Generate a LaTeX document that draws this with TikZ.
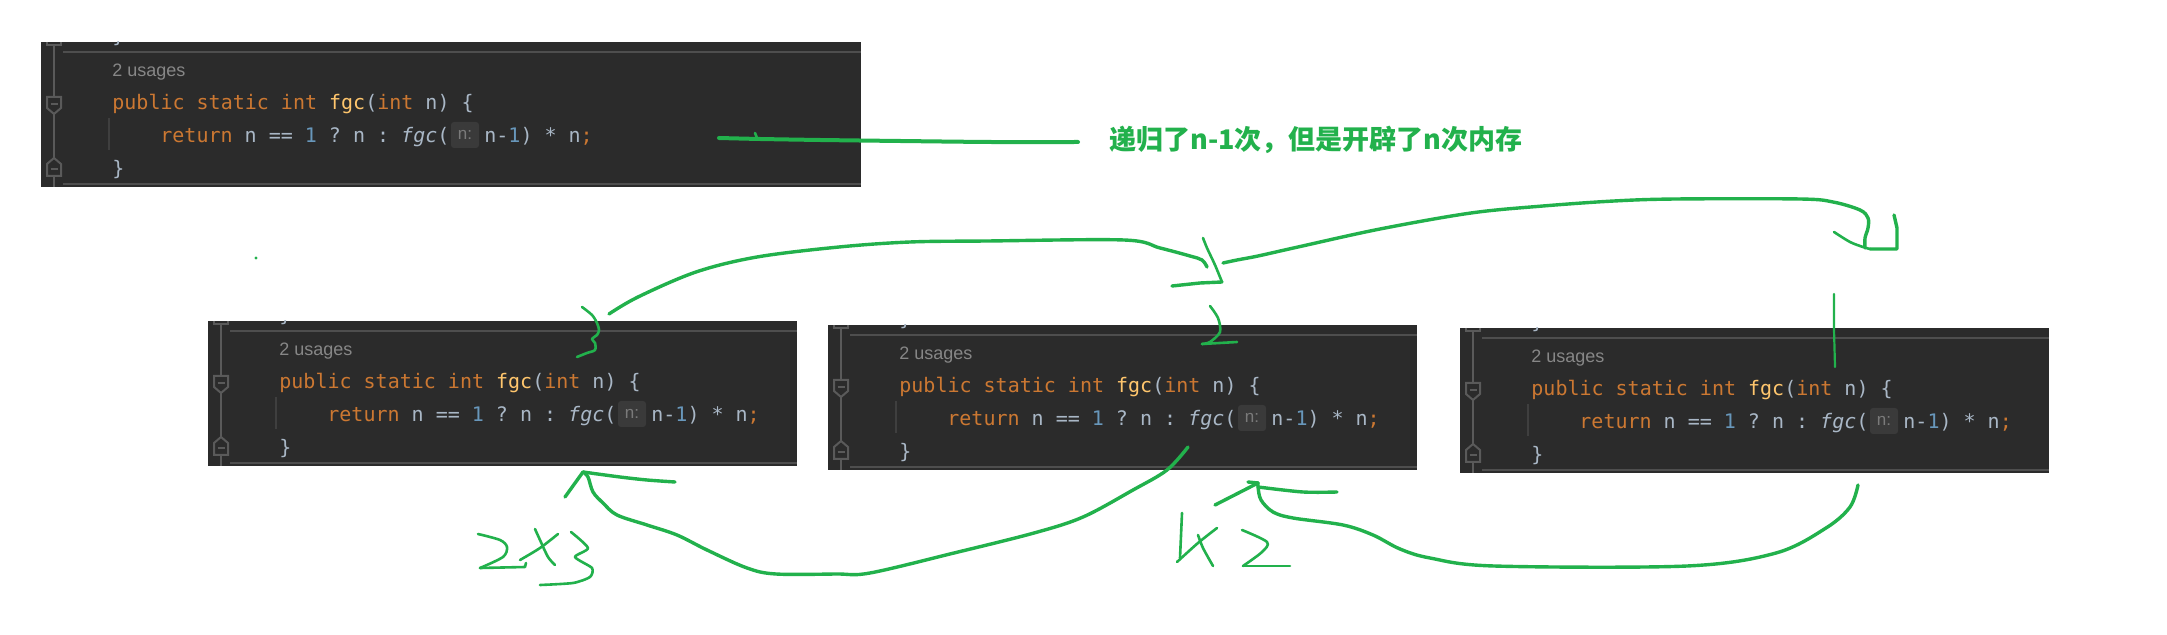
\documentclass[tikz,border=0pt]{standalone}
\usepackage{fontspec}
\setmonofont{DejaVu Sans Mono}
\newfontfamily\usfont{Liberation Sans}
\newfontfamily\cjk{Noto Sans CJK SC}
\definecolor{codebg}{HTML}{2B2B2B}
\definecolor{kw}{HTML}{CC7832}
\definecolor{fn}{HTML}{FFC66D}
\definecolor{tx}{HTML}{A9B7C6}
\definecolor{num}{HTML}{6897BB}
\definecolor{usg}{HTML}{878787}
\definecolor{hintbg}{HTML}{3A3A3A}
\definecolor{hinttx}{HTML}{7A7A7A}
\definecolor{gutc}{HTML}{5A5A5A}
\definecolor{sepc}{HTML}{4E4E4E}
\definecolor{guide}{HTML}{3F3F3F}
\definecolor{grn}{HTML}{22B14C}
\tikzset{
  codetext/.style={anchor=base west, inner sep=0pt, font=\ttfamily\fontsize{10}{12}\selectfont},
  usagetext/.style={anchor=base west, inner sep=0pt, text=usg, font=\usfont\fontsize{9}{11}\selectfont},
  gut/.style={draw=gutc, line width=1pt},
  sepline/.style={draw=sepc, line width=1.1pt},
  pen/.style={draw=grn, line width=1.7pt, line cap=round, line join=round},
  thinpen/.style={draw=grn, line width=1.3pt, line cap=round, line join=round},
  hairpen/.style={draw=grn, line width=1.1pt, line cap=round, line join=round},
}
\newcommand\ctx[2]{{\color{#1}{}#2}}
\newcommand\codepanel[4]{% name, left, top, width
  \begin{scope}[shift={(#2,#3)}]
    \node[fill=codebg, inner sep=0pt, minimum width=#4*0.5pt, minimum height=72.5pt] (#1) at (#4/2,72.5) {};
    \begin{scope}
      \clip (0,0) rectangle (#4,145);
      \node[codetext, text=tx] (#1-prev) at (71,1) {\}};
    \end{scope}
    \draw[gut] (6,0) -- (6,3) -- (20,3) -- (20,0);
    \draw[gut] (13,3) -- (13,55);
    \draw[gut, fill=codebg] (6,55) -- (20,55) -- (20,66) -- (13,72) -- (6,66) -- cycle;
    \draw[gut] (9.5,62) -- (16.5,62);
    \draw[gut] (13,72) -- (13,116);
    \draw[gut, fill=codebg] (13,116) -- (20,122) -- (20,134) -- (6,134) -- (6,122) -- cycle;
    \draw[gut] (9.5,127) -- (16.5,127);
    \draw[gut] (13,134) -- (13,145);
    \draw[sepline] (22,10) -- (#4,10);
    \draw[sepline] (22,142) -- (#4,142);
    \draw[draw=guide, line width=1pt] (68,76) -- (68,108);
    \node[usagetext] (#1-us) at (71,35) {2 usages};
    \node[codetext] (#1-decl) at (71,68) {\ctx{kw}{public static int }\ctx{fn}{fgc}\ctx{tx}{(}\ctx{kw}{int }\ctx{tx}{n) \{}};
    \node[codetext] (#1-ret) at (119,101) {\ctx{kw}{return}\ctx{tx}{ n == }\ctx{num}{1}\ctx{tx}{ ? n : }\ctx{tx}{\itshape fgc}\ctx{tx}{(}};
    \node[fill=hintbg, rounded corners=1.5pt, inner sep=0pt, minimum width=14pt, minimum height=13pt, text=hinttx, font=\usfont\fontsize{8.5}{10}\selectfont] (#1-hint) at (424,93) {n:};
    \node[codetext] (#1-ret2) at (443,101) {\ctx{tx}{n-}\ctx{num}{1}\ctx{tx}{) * n}\ctx{kw}{;}};
    \node[codetext, text=tx] (#1-close) at (71,134) {\}};
  \end{scope}
}
\begin{document}
\begin{tikzpicture}[x=0.5pt,y=-0.5pt]
\useasboundingbox[fill=white] (0,0) rectangle (2167,635);
% code panels
\codepanel{top}{41}{42}{820}
\codepanel{pa}{208}{321}{589}
\codepanel{pb}{828}{325}{589}
\codepanel{pc}{1460}{328}{589}
% annotation
\node[anchor=west, inner sep=0pt, text=grn, font=\cjk\bfseries\fontsize{13.5}{16}\selectfont] (note) at (1109,140) {递归了n-1次，但是开辟了n次内存};
\draw[pen, line width=2pt] plot[smooth, tension=0.4] coordinates {(719,138) (760,139) (820,140) (900,141) (990,142) (1078,142)};
\draw[thinpen] (755,133) -- (757,138);
% stray dot
\fill[grn] (256,258) circle (1.6);
% upper left arc (to the 2)
\draw[pen] plot[smooth, tension=0.55] coordinates {(609,314) (638,297) (696,272) (757,257) (839,247) (910,242) (987,241) (1124,240) (1160,248) (1190,256) (1202,260) (1207,267)};
\draw[thinpen] plot[smooth, tension=0.5] coordinates {(1203,238) (1207,248) (1215,265) (1222,282)};
\draw[pen] (1222,282) -- (1200,283) -- (1172,286);
% "3" above panel A
\draw[thinpen] plot[smooth, tension=0.5] coordinates {(582,307) (592,315) (597,323) (599,330) (597,335) (592,339) (595,343) (595,350) (587,353) (577,357)};
% "2" above panel B
\draw[thinpen] plot[smooth, tension=0.5] coordinates {(1210,306) (1218,318) (1220,332) (1210,342) (1202,344)};
\draw[thinpen] (1202,344) -- (1237,342);
% upper right arc
\draw[pen] plot[smooth, tension=0.55] coordinates {(1223,263) (1237,260) (1258,256) (1298,247) (1380,229) (1471,213) (1543,206) (1614,201) (1676,199) (1800,199) (1833,202) (1860,210) (1868,218) (1868,228) (1865,238) (1865,248)};
\draw[thinpen] plot[smooth, tension=0.5] coordinates {(1834,232) (1850,242) (1863,247) (1870,249)};
\draw[pen] (1870,249) -- (1897,249) -- (1897,228) -- (1894,215);
% vertical stroke above panel C
\draw[hairpen] (1834,294) -- (1834,330) -- (1835,367);
% lower left arc (from panel B back to A)
\draw[pen] plot[smooth, tension=0.55] coordinates {(1188,447) (1167,470) (1133,490) (1083,517) (1034,533) (954,553) (870,573) (836,574) (776,574) (747,568) (707,550) (677,535) (647,525) (617,515) (603,503) (593,492) (588,477) (583,472)};
\draw[pen] (565,497) -- (583,472);
\draw[pen] plot[smooth, tension=0.5] coordinates {(583,472) (620,477) (647,480) (675,482)};
% "2x3"
\draw[thinpen] plot[smooth, tension=0.5] coordinates {(478,534) (500,540) (507,547) (503,557) (480,568)};
\draw[thinpen] (480,568) -- (525,567) -- (526,563);
\draw[thinpen] plot[smooth, tension=0.5] coordinates {(535,529) (540,540) (548,557) (555,565)};
\draw[thinpen] plot[smooth, tension=0.5] coordinates {(558,534) (540,548) (520,560)};
\draw[thinpen] plot[smooth, tension=0.4] coordinates {(571,532) (588,548) (575,557) (592,568) (590,577) (573,583) (540,585)};
% lower right arc (from panel C back to B)
\draw[pen] plot[smooth, tension=0.55] coordinates {(1858,485) (1850,507) (1826,528) (1776,553) (1687,566) (1494,566) (1430,558) (1400,549) (1373,535) (1343,525) (1293,518) (1273,512) (1261,500) (1258,487) (1258,483)};
\draw[pen] (1215,505) -- (1258,483);
\draw[pen] (1248,482) -- (1258,483);
\draw[pen] plot[smooth, tension=0.5] coordinates {(1258,487) (1303,492) (1337,492)};
% "1x2"
\draw[thinpen] (1182,513) -- (1180,558);
\draw[thinpen] plot[smooth, tension=0.5] coordinates {(1217,528) (1198,543) (1177,562)};
\draw[thinpen] plot[smooth, tension=0.5] coordinates {(1198,535) (1203,548) (1213,566)};
\draw[thinpen] plot[smooth, tension=0.5] coordinates {(1242,530) (1267,542) (1262,552) (1243,566)};
\draw[thinpen] (1243,566) -- (1290,566);
\end{tikzpicture}
\end{document}
